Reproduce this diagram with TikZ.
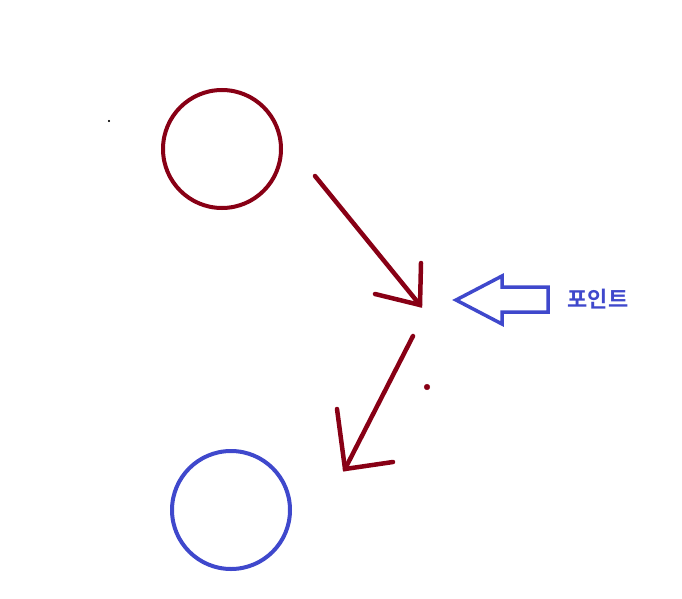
\documentclass[tikz,border=0pt]{standalone}
\usepackage{fontspec}
\newfontfamily\krfont{Noto Sans CJK KR}[BoldFont={* Bold}]
\usetikzlibrary{positioning}
\definecolor{darkred}{HTML}{880015}
\definecolor{paintblue}{HTML}{3F48CC}

\begin{document}
\begin{tikzpicture}[x=1pt,y=-1pt,
  ring/.style={circle,line width=4pt,minimum size=118pt,inner sep=0pt},
  stroke/.style={darkred,line width=4.5pt,line cap=round}]
\useasboundingbox (0,0) rectangle (682,599);

\node[ring,draw=darkred] (top) at (222,149) {};
\node[ring,draw=paintblue] (bottom) at (231,510) {};

% first arrow
\coordinate (a1) at (315,176);
\coordinate (t1) at (420,305);
\coordinate (h1a) at (421,263);
\coordinate (h1b) at (375,294);
\draw [stroke](a1)--(t1);
\draw [stroke](h1a)--(t1)--(h1b);

% second arrow
\coordinate (a2) at (413,336);
\coordinate (t2) at (345,469);
\coordinate (h2a) at (337,409);
\coordinate (h2b) at (393,462);
\draw [stroke](a2)--(t2);
\draw [stroke](h2a)--(t2)--(h2b);

\filldraw [darkred] (427,387) circle (2.8pt);
\filldraw [black] (109,121) circle (0.8pt);

% block arrow
\draw [paintblue,line width=3.5pt,line join=miter]
  (456,300)--(502,276)--(502,287)--(548,287)--(548,312)--(502,312)--(502,324)--cycle;
\node[paintblue,font=\krfont\bfseries\fontsize{22}{24}\selectfont] (label) at (598,299) {포인트};
\end{tikzpicture}
\end{document}
